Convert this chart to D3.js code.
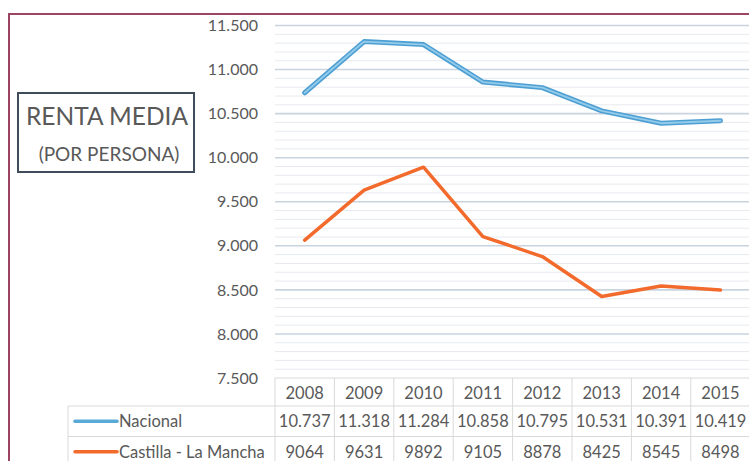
<!DOCTYPE html>
<html>
<head>
<meta charset="utf-8">
<script src="https://cdn.jsdelivr.net/npm/d3@7"></script>
<style>
  body { margin: 0; background: #fff; }
  svg { display: block; font-family: Lato, "Open Sans", sans-serif; }
</style>
</head>
<body>
<svg width="749" height="461"></svg>
<script>
// chart data
var years = ["2008", "2009", "2010", "2011", "2012", "2013", "2014", "2015"];
var nacional = [10737, 11318, 11284, 10858, 10795, 10531, 10391, 10419];
var castilla = [9064, 9631, 9892, 9105, 8878, 8425, 8545, 8498];
var seriesNames = ["Nacional", "Castilla - La Mancha"];
var yTicks = [7500, 8000, 8500, 9000, 9500, 10000, 10500, 11000, 11500];

var svg = d3.select("svg"),
    width = +svg.attr("width"),
    height = +svg.attr("height");

var es = d3.formatLocale({ decimal: ",", thousands: ".", grouping: [3], currency: ["", ""] });
var fmt = es.format(",d");

var left = 275, colW = 59.4;
var x = d3.scaleBand().domain(years).range([left, left + colW * years.length]);
var y = d3.scaleLinear().domain([7500, 11500]).range([378, 25.5]);

svg.append("rect").attr("width", width).attr("height", height).attr("fill", "#fff");

// outer frame
svg.append("rect")
    .attr("x", 9).attr("y", 14)
    .attr("width", 800).attr("height", 500)
    .attr("fill", "none")
    .attr("stroke", "#9c4561")
    .attr("stroke-width", 2);

// minor + major gridlines
var minor = d3.range(7600, 11500, 100).filter(function (v) { return v % 500 != 0; });
svg.append("g").selectAll("line")
    .data(minor).enter().append("line")
    .attr("x1", left).attr("x2", width)
    .attr("y1", function (d) { return y(d); })
    .attr("y2", function (d) { return y(d); })
    .attr("stroke", "#e6eaef").attr("stroke-width", 1);

svg.append("g").selectAll("line")
    .data(yTicks.slice(1)).enter().append("line")
    .attr("x1", left).attr("x2", width)
    .attr("y1", function (d) { return y(d); })
    .attr("y2", function (d) { return y(d); })
    .attr("stroke", "#c9d4df").attr("stroke-width", 1.6);

// y axis labels
var yAxis = svg.append("g")
    .attr("transform", "translate(262,0)")
    .call(d3.axisLeft(y).tickValues(yTicks).tickFormat(fmt).tickSize(0).tickPadding(4));
yAxis.select(".domain").remove();
yAxis.selectAll("text")
    .attr("fill", "#595959")
    .attr("font-size", "16px")
    .attr("font-family", "Lato, sans-serif");

// lines
var line = d3.line()
    .x(function (d, i) { return x(years[i]) + x.bandwidth() / 2; })
    .y(function (d) { return y(d); });

svg.append("path").datum(nacional)
    .attr("d", line).attr("fill", "none")
    .attr("stroke", "#4d9fd3").attr("stroke-width", 5)
    .attr("stroke-linejoin", "round").attr("stroke-linecap", "round");
svg.append("path").datum(nacional)
    .attr("d", line).attr("fill", "none")
    .attr("stroke", "#93cbea").attr("stroke-width", 1.8)
    .attr("stroke-linejoin", "round").attr("stroke-linecap", "round");

svg.append("path").datum(castilla)
    .attr("d", line).attr("fill", "none")
    .attr("stroke", "#f26a2c").attr("stroke-width", 3.5)
    .attr("stroke-linejoin", "round").attr("stroke-linecap", "round");

// data table
var rowTop = 378, rowH = [28, 30.5, 30.5], labelLeft = 68;
var r1 = rowTop + rowH[0], r2 = r1 + rowH[1], r3 = r2 + rowH[2];
var gridColor = "#d9d9d9";
var t = svg.append("g");

t.append("line").attr("x1", left).attr("x2", width).attr("y1", rowTop).attr("y2", rowTop)
    .attr("stroke", gridColor);
[r1, r2].forEach(function (yy) {
    t.append("line").attr("x1", labelLeft).attr("x2", width).attr("y1", yy).attr("y2", yy)
        .attr("stroke", gridColor);
});
t.append("line").attr("x1", labelLeft).attr("x2", labelLeft).attr("y1", r1).attr("y2", height)
    .attr("stroke", gridColor);
t.selectAll(".vline")
    .data(years).enter().append("line")
    .attr("class", "vline")
    .attr("x1", function (d) { return x(d); })
    .attr("x2", function (d) { return x(d); })
    .attr("y1", rowTop).attr("y2", height)
    .attr("stroke", gridColor);

var txt = function (sel) {
    sel.attr("fill", "#595959").attr("font-size", "16.5px").attr("dominant-baseline", "central");
};

t.selectAll(".yr").data(years).enter().append("text")
    .attr("class", "yr")
    .attr("x", function (d) { return x(d) + x.bandwidth() / 2; })
    .attr("y", rowTop + rowH[0] / 2 + 1)
    .attr("text-anchor", "middle")
    .text(function (d) { return d; }).call(txt);

t.selectAll(".nac").data(nacional).enter().append("text")
    .attr("class", "nac")
    .attr("x", function (d, i) { return x(years[i]) + x.bandwidth() / 2; })
    .attr("y", r1 + rowH[1] / 2)
    .attr("text-anchor", "middle")
    .text(function (d) { return fmt(d); }).call(txt);

t.selectAll(".cas").data(castilla).enter().append("text")
    .attr("class", "cas")
    .attr("x", function (d, i) { return x(years[i]) + x.bandwidth() / 2; })
    .attr("y", r2 + rowH[2] / 2)
    .attr("text-anchor", "middle")
    .text(function (d) { return d; }).call(txt);

// legend keys in the table
var keyColors = ["#5aaad8", "#f26a2c"];
var keyY = [r1 + rowH[1] / 2, r2 + rowH[2] / 2];
seriesNames.forEach(function (name, i) {
    t.append("line")
        .attr("x1", 75).attr("x2", 117)
        .attr("y1", keyY[i]).attr("y2", keyY[i])
        .attr("stroke", keyColors[i]).attr("stroke-width", 3.5)
        .attr("stroke-linecap", "round");
    t.append("text")
        .attr("x", 119).attr("y", keyY[i])
        .text(name).call(txt);
});

// title box
svg.append("rect")
    .attr("x", 18).attr("y", 93)
    .attr("width", 176).attr("height", 79)
    .attr("fill", "#fff")
    .attr("stroke", "#3e4c5c").attr("stroke-width", 2);
svg.append("text")
    .attr("x", 107).attr("y", 125)
    .attr("text-anchor", "middle")
    .attr("fill", "#595959").attr("font-size", "24.5px")
    .text("RENTA MEDIA");
svg.append("text")
    .attr("x", 109).attr("y", 161)
    .attr("text-anchor", "middle")
    .attr("fill", "#595959").attr("font-size", "19px")
    .text("(POR PERSONA)");
</script>
</body>
</html>
